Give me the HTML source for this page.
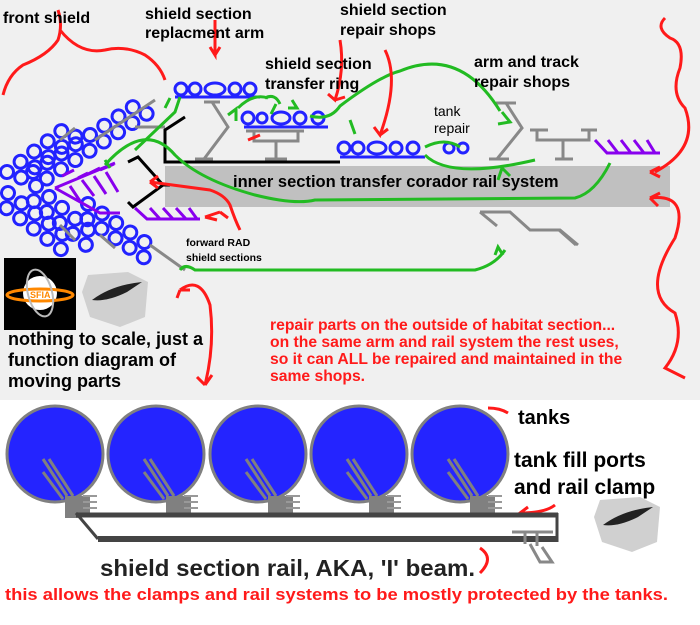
<!DOCTYPE html>
<html><head><style>
body{margin:0;width:700px;height:620px;overflow:hidden;background:#fff}
svg text{font-family:"Liberation Sans",Arial,sans-serif}
.b{font-weight:bold}
</style></head><body>
<svg width="700" height="620" viewBox="0 0 700 620" xmlns="http://www.w3.org/2000/svg">
<defs>
<g id="b5"><circle cx="0" cy="0" r="6.5"/><circle cx="17" cy="0" r="6.5"/><circle cx="34" cy="0" r="6.5"/><circle cx="51" cy="0" r="6.5"/><circle cx="68" cy="0" r="6.5"/>
<circle cx="8" cy="13" r="6.5"/><circle cx="25" cy="13" r="6.5"/><circle cx="42" cy="13" r="6.5"/><circle cx="59" cy="13" r="6.5"/><circle cx="76" cy="13" r="6.5"/></g>
<g id="b8"><use href="#b5"/><circle cx="85" cy="0" r="6.5"/><circle cx="102" cy="0" r="6.5"/><circle cx="119" cy="0" r="6.5"/><circle cx="93" cy="13" r="6.5"/><circle cx="110" cy="13" r="6.5"/><circle cx="127" cy="13" r="6.5"/></g>
<g id="tank">
<ellipse cx="0" cy="0" rx="48" ry="48" fill="#2424ff" stroke="#808080" stroke-width="3"/>
<g stroke="#808080" stroke-width="3"><line x1="-12" y1="5" x2="12" y2="42"/><line x1="-6" y1="5" x2="18" y2="42"/><line x1="-12" y1="18" x2="8" y2="45"/></g>
<rect x="10" y="42" width="25" height="22" fill="#808080"/>
<path d="M28 42h14M28 48h14M28 54h14" stroke="#999" stroke-width="2" fill="none"/>
</g>
</defs>
<rect width="700" height="400" fill="#f0f0f0"/>
<rect x="165" y="166" width="505" height="41" fill="#c0c0c0"/>

<!-- front shield chains -->
<g fill="none" stroke="#2222ff" stroke-width="3">
<use href="#b5" transform="translate(7,172) rotate(-37)"/>
<use href="#b8" transform="translate(33,172) rotate(-33)"/>
<use href="#b5" transform="translate(8,193) rotate(37)"/>
<use href="#b5" transform="translate(36,186) rotate(40)"/>
<use href="#b5" transform="translate(88,204) rotate(34)"/>
</g>
<g stroke="#888" stroke-width="3">
<line x1="60" y1="140" x2="75" y2="128"/><line x1="95" y1="140" x2="155" y2="100"/><line x1="135" y1="127" x2="165" y2="127"/>
<line x1="60" y1="225" x2="75" y2="240"/><line x1="100" y1="235" x2="115" y2="248"/><line x1="150" y1="245" x2="185" y2="270"/>
</g>

<!-- small chains -->
<g fill="none" stroke="#2222ff" stroke-width="3">
<circle cx="181" cy="89" r="6"/><circle cx="195" cy="89" r="6"/><ellipse cx="215" cy="89" rx="10" ry="6"/><circle cx="235" cy="89" r="6"/><circle cx="250" cy="89" r="6"/>
<line x1="175" y1="97" x2="260" y2="97"/>
<circle cx="248" cy="118" r="6"/><circle cx="262" cy="118" r="5"/><ellipse cx="281" cy="118" rx="9" ry="6"/><circle cx="300" cy="118" r="6"/><circle cx="318" cy="118" r="6"/>
<line x1="244" y1="127" x2="328" y2="127"/>
<circle cx="344" cy="148" r="6"/><circle cx="358" cy="148" r="6"/><ellipse cx="377" cy="148" rx="9" ry="6"/><circle cx="396" cy="148" r="6"/><circle cx="413" cy="148" r="6"/>
<line x1="340" y1="157" x2="425" y2="157"/>
<circle cx="449" cy="148" r="5"/><circle cx="463" cy="148" r="5"/>
</g>

<!-- gray stands -->
<g fill="none" stroke="#888" stroke-width="3">
<path d="M204 102h16M212 102l16 25l-24 32M195 159h18"/>
<path d="M246 131h58M254 131v10h44v-10M276 141v18M265 159h22"/>
<path d="M496 103h20M506 103l16 25l-25 31M489 159h20"/>
<path d="M530 130h18M581 130h16M537 130v10h52v-10M563 140v18M555 159h18"/>
<path d="M480 212h30l20 18h30l18 15M480 212l17 14M559 230l17 15"/>
</g>

<!-- purple -->
<g fill="none" stroke="#8800ee" stroke-width="3">
<path d="M55 188l60-25M55 188l45 25h20M70 186l10 15M82 180l12 16M94 176l12 18M106 172l12 20M62 176l12-6M78 178l10-5M88 174l12-6M100 170l14-6"/>
<path d="M135 208l12 11h53M150 208l10 11M163 208l10 11M176 208l10 11M189 208l8 11"/>
<path d="M595 140l12 13h53M608 140l10 13M621 140l10 13M634 140l10 13M647 140l8 13"/>
</g>

<!-- black -->
<g fill="none" stroke="#000" stroke-width="3">
<path d="M185 117l-20 13v32h175"/>
<path d="M128 162l10-5l25 28l-30 22l-5-5M163 185h7"/>
</g>

<!-- green curves -->
<g fill="none" stroke="#22bb22" stroke-width="3">
<path d="M135 150l40-38l5-15M165 108l5-10"/>
<path d="M105 165q40-45 70-10q25 25 80 40q40 10 60 5l260 -2q20 -5 35 -35"/>
<path d="M238 108q15-15 30-10M265 98q10-5 15 6M276 104l-5 10"/>
<path d="M310 116q20 5 30-10q40-30 60-35q60-25 100 40"/>
<path d="M350 120l5 14M425 147q20-10 35 0M425 155q25 25 110 5"/>
<path d="M180 270q5-7 15 0h280q20-5 30-20"/>
</g>
<g fill="none" stroke="#22bb22" stroke-width="3">
<path d="M228 115l8-6l0 12"/><path d="M110 168l-5 -8M498 180l4 -12l8 8"/><path d="M502 112l8 10l-12 2"/><path d="M495 255l3-8l5 8"/><path d="M292 100l5 8l-9 0"/>
</g>

<!-- red arrows -->
<g fill="none" stroke="#ff1a1a" stroke-width="3">
<path d="M3 95q5-20 20-30q25-10 35-25q5-15 0-30M60 30q20 25 45 20q20-5 40 5q15 10 20 25"/>
<path d="M215 20v35l-5-8M215 55l5-8"/>
<path d="M340 40q5 30-5 60l-7-6M335 100l10-3"/>
<path d="M385 50q15 30 -5 85l-6-8M380 135l8-6"/>
<path d="M248 140l12-5M150 182l60 8q15 5 20 15q5 15 10 25M150 182l8-6M150 182l8 6"/>
<path d="M205 217l15-5M220 212l8 6M205 217l12 3"/>
<path d="M180 290q20-15 30 15q5 40 -5 80M180 290l-3 8M180 290l10 0M205 385l-8-8M205 385l7-10"/>
<path d="M665 18q-10 10 5 20q15 5 10 30q-10 25 5 40q15 40 -30 64M650 172l10-5M650 172l10 5"/>
<path d="M650 198q40-5 25 40q-35 55 0 75q10 30 -10 55l20 10M650 198l10 -5M650 198l8 8"/>
<path d="M488 408q12 0 20 5"/>
<path d="M555 505q-10 8 -35 8l8-6M520 513l10 4"/>
<path d="M480 548q15 10 0 25"/>
</g>

<!-- logo & sketch -->
<rect x="4" y="258" width="72" height="72" fill="#000"/>
<circle cx="40" cy="293" r="17" fill="#fff"/>
<ellipse cx="40" cy="295" rx="33" ry="6" fill="none" stroke="#ff8800" stroke-width="3"/>
<ellipse cx="40" cy="293" rx="12" ry="24" fill="none" stroke="#bbb" stroke-width="2" transform="rotate(-15 40 293)"/>
<text x="30" y="298" font-size="9" fill="#ff8800" class="b">SFIA</text>
<path d="M88 275l40-3l20 10l-3 35l-25 10l-30-10l-8-25z" fill="#d0d0d0"/>
<path d="M92 300q20-15 50-18l-15 10q-20 10-35 8z" fill="#222"/>
<path d="M600 500l40-3l20 10l-3 35l-25 10l-30-10l-8-25z" fill="#d0d0d0"/>
<path d="M603 525q20-15 50-18l-15 10q-20 10-35 8z" fill="#222"/>

<!-- tanks -->
<use href="#tank" x="55" y="454"/><use href="#tank" x="156" y="454"/><use href="#tank" x="258" y="454"/><use href="#tank" x="359" y="454"/><use href="#tank" x="460" y="454"/>
<!-- rail -->
<path d="M76 513h482v29h-460z" fill="#fff"/>
<g stroke="#444" fill="none"><line x1="76" y1="515" x2="558" y2="515" stroke-width="5"/><line x1="98" y1="539" x2="558" y2="539" stroke-width="6"/><line x1="76" y1="513" x2="98" y2="539" stroke-width="3"/><line x1="557" y1="513" x2="557" y2="542" stroke-width="3"/></g>
<path d="M512 532h20M528 532h25M525 532v12M537 532v14M530 544l10 18h12l-10-15" stroke="#888" stroke-width="3" fill="none"/>

<!-- text -->
<g font-size="16" fill="#000" class="b">
<text x="3" y="23">front shield</text>
<text x="145" y="19">shield section</text><text x="145" y="38">replacment arm</text>
<text x="340" y="15">shield section</text><text x="340" y="35">repair shops</text>
<text x="265" y="69">shield section</text><text x="265" y="89">transfer ring</text>
<text x="474" y="67">arm and track</text><text x="474" y="87">repair shops</text>
<text x="233" y="187" font-size="16.5">inner section transfer corador rail system</text>
</g>
<text x="434" y="116" font-size="14">tank</text>
<text x="434" y="133" font-size="14">repair</text>
<text x="186" y="246" font-size="10.5" class="b">forward RAD</text><text x="186" y="261" font-size="10.5" class="b">shield sections</text>
<g font-size="18" class="b"><text x="8" y="345">nothing to scale, just a</text><text x="8" y="366">function diagram of</text><text x="8" y="387">moving parts</text></g>
<g font-size="15.7" fill="#ff1a1a" class="b"><text x="270" y="330">repair parts on the outside of habitat section...</text><text x="270" y="347">on the same arm and rail system the rest uses,</text><text x="270" y="364">so it can ALL be repaired and maintained in the</text><text x="270" y="381">same shops.</text></g>
<text x="518" y="424" font-size="20" class="b">tanks</text>
<text x="514" y="467" font-size="21" class="b">tank fill ports</text>
<text x="514" y="494" font-size="21" class="b">and rail clamp</text>
<text x="100" y="576" font-size="23" fill="#222" class="b" textLength="375" lengthAdjust="spacingAndGlyphs">shield section rail, AKA, 'I' beam.</text>
<text x="5" y="600" font-size="17" fill="#ff1a1a" class="b" textLength="663" lengthAdjust="spacingAndGlyphs">this allows the clamps and rail systems to be mostly protected by the tanks.</text>
</svg>
</body></html>
